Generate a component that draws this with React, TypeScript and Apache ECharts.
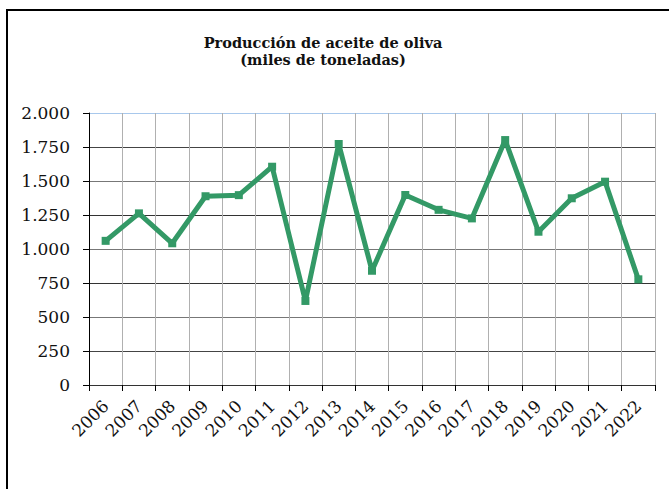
import React, { useEffect, useRef } from "react";
import * as echarts from "echarts";

const years = ["2006","2007","2008","2009","2010","2011","2012","2013","2014","2015","2016","2017","2018","2019","2020","2021","2022"];
const production = [1060, 1262, 1042, 1388, 1396, 1605, 618, 1772, 840, 1397, 1288, 1225, 1801, 1127, 1373, 1495, 777];
const titleLines = ["Producción de aceite de oliva", "(miles de toneladas)"];

const fmt = (v: number) => {
  const s = String(v);
  return s.length > 3 ? s.slice(0, s.length - 3) + "." + s.slice(-3) : s;
};

export default function App() {
  const ref = useRef<HTMLDivElement>(null);
  useEffect(() => {
    document.body.style.margin = "0";
    const chart = echarts.init(ref.current!, null, { renderer: "svg" });
    chart.setOption({
      animation: false,
      backgroundColor: "#ffffff",
      title: {
        text: titleLines.join("\n"),
        left: 318,
        top: 29,
        textAlign: "center",
        textStyle: {
          fontFamily: "DejaVu Serif",
          fontWeight: "bold",
          fontSize: 14.5,
          lineHeight: 17,
          color: "#111",
        },
      },
      graphic: [
        {
          type: "rect",
          shape: { x: 7, y: 10, width: 720, height: 520 },
          style: { fill: "none", stroke: "#000", lineWidth: 2 },
          silent: true,
        },
      ],
      grid: { left: 89, right: 14, top: 113, bottom: 104 },
      xAxis: {
        type: "category",
        data: years,
        boundaryGap: true,
        axisLine: { show: true, lineStyle: { color: "#333", width: 1 } },
        axisTick: { show: true, inside: false, length: 6, interval: 0, lineStyle: { color: "#000" } },
        axisLabel: {
          interval: 0,
          rotate: 45,
          margin: 18,
          fontFamily: "DejaVu Serif",
          fontSize: 17,
          color: "#111",
        },
        splitLine: { show: true, interval: 0, lineStyle: { color: "#b0b0b0", width: 1 } },
      },
      yAxis: {
        type: "value",
        min: 0,
        max: 2000,
        interval: 250,
        axisLine: { show: true, lineStyle: { color: "#000", width: 1 } },
        axisTick: { show: true, inside: false, length: 6, lineStyle: { color: "#000" } },
        axisLabel: {
          margin: 19,
          fontFamily: "DejaVu Serif",
          fontSize: 17,
          color: "#111",
          formatter: (v: number) => fmt(v),
        },
        splitLine: {
          show: true,
          lineStyle: {
            color: ["#555", "#444", "#777", "#333", "#777", "#333", "#777", "#444", "#a8c8ec"],
            width: 1,
          },
        },
      },
      series: [
        {
          type: "line",
          data: production,
          symbol: "rect",
          symbolSize: 8,
          lineStyle: { color: "#339966", width: 5 },
          itemStyle: { color: "#339966" },
        },
      ],
    });
    return () => chart.dispose();
  }, []);
  return <div ref={ref} style={{ width: 669, height: 489 }} />;
}
